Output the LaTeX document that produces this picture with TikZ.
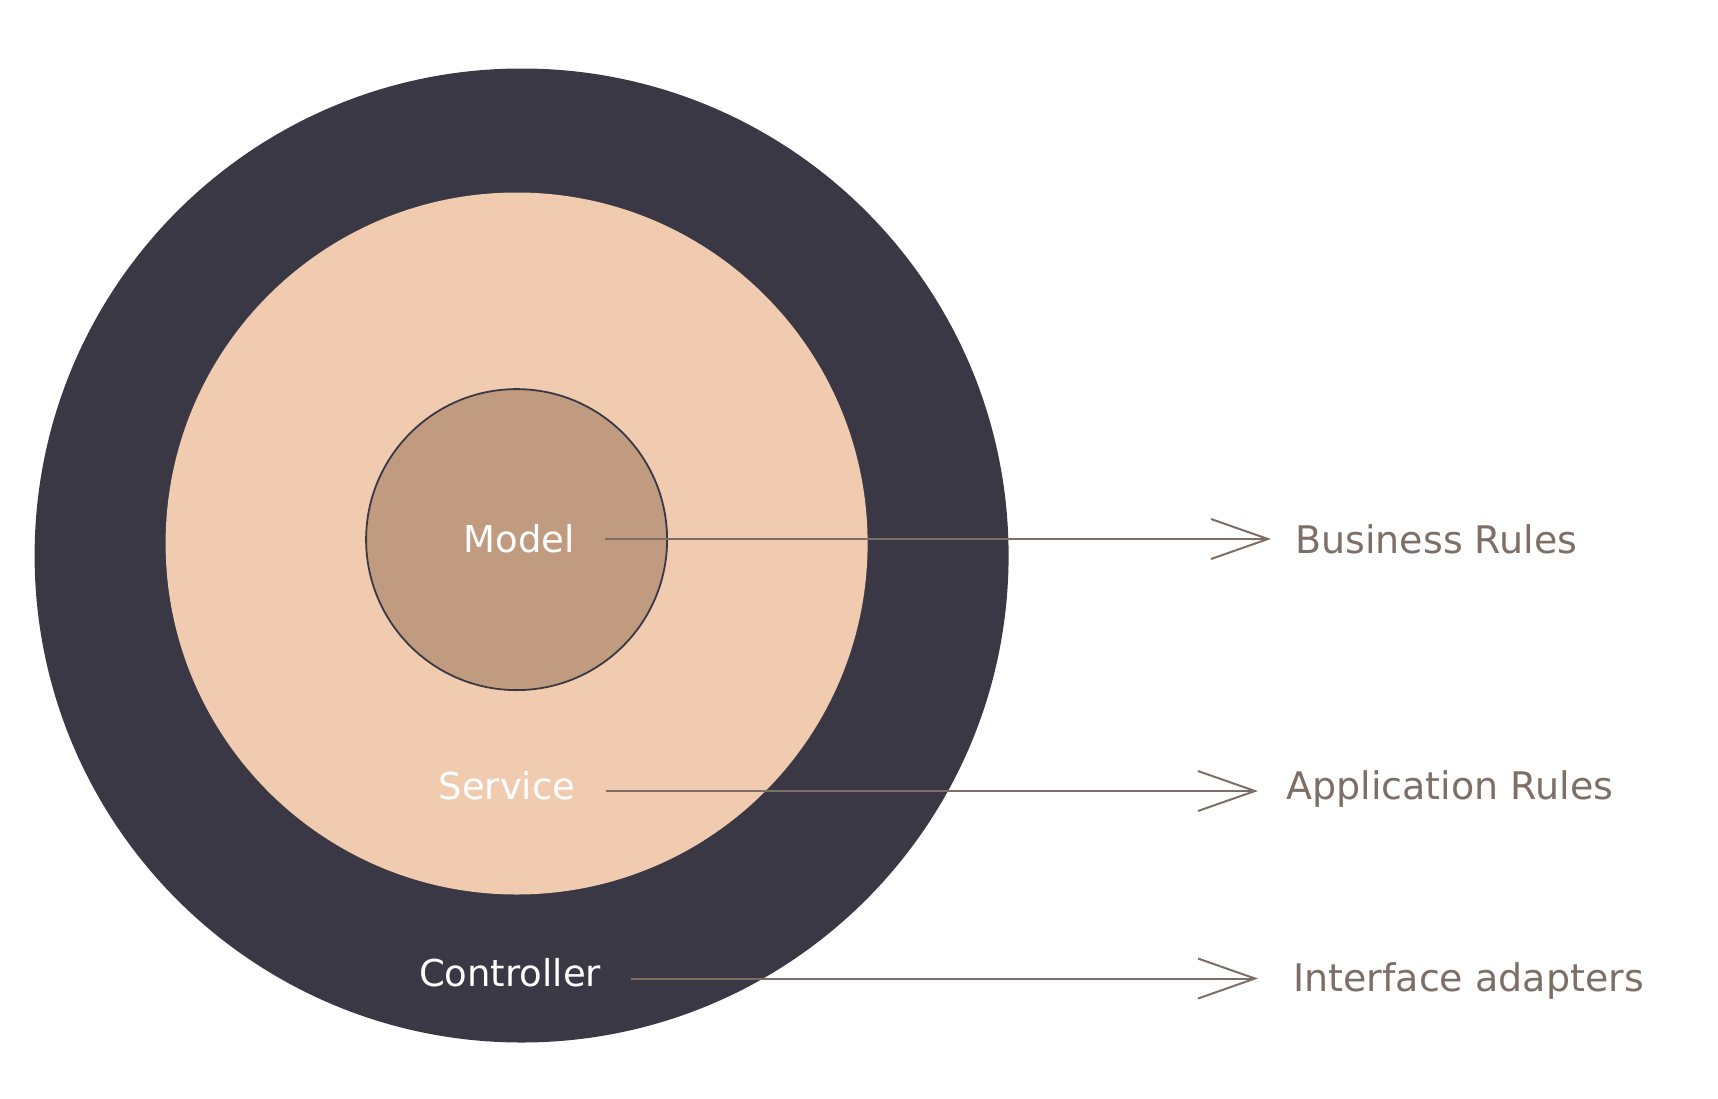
\documentclass[tikz,border=0pt]{standalone}
\usepackage{fontspec}
\setmainfont{DejaVu Sans}
\usetikzlibrary{arrows.meta}
\definecolor{ringdark}{RGB}{59,56,69}
\definecolor{ringpeach}{RGB}{240,203,176}
\definecolor{coretan}{RGB}{192,155,127}
\definecolor{labelgray}{RGB}{125,111,102}
\begin{document}
\begin{tikzpicture}[x=1pt,y=-1pt,
    ring/.style={circle,inner sep=0pt},
    layer/.style={text=white,inner sep=0pt,font=\fontsize{37}{44}\selectfont},
    rule/.style={text=labelgray,inner sep=0pt,anchor=west,font=\fontsize{38}{46}\selectfont},
    pointer/.style={draw=labelgray,line width=2pt,shorten <=30pt,
        -{Straight Barb[length=57pt,width=40pt,line width=2pt]}}]
    \useasboundingbox (0,0) rectangle (1718,1098);
    % rings
    \node[ring,fill=ringdark,minimum size=974pt] at (521.6,555.5) (outer) {};
    \node[ring,fill=ringpeach,minimum size=702pt] at (516.6,543.5) (middle) {};
    \node[ring,fill=coretan,draw=ringdark,line width=1.8pt,minimum size=301pt] at (516.6,539.6) (inner) {};
    % labels
    \node[layer] at (519,539) (model) {Model};
    \node[layer] at (507,786) (service) {Service};
    \node[layer] at (510,973) (controller) {Controller};
    \node[rule] at (1295,539) (business) {Business Rules};
    \node[rule] at (1286,789) (application) {Application Rules};
    \node[rule] at (1293,981) (interface) {Interface adapters};
    % pointers
    \draw[pointer] (model.east) -- ([xshift=-24pt]model.east -| business.west);
    \draw[pointer] ([yshift=-5pt]service.east) -- ([yshift=-5pt,xshift=-28pt]service.east -| application.west);
    \draw[pointer] ([yshift=-5.5pt]controller.east) -- ([yshift=-5.5pt,xshift=-35pt]controller.east -| interface.west);
\end{tikzpicture}
\end{document}
